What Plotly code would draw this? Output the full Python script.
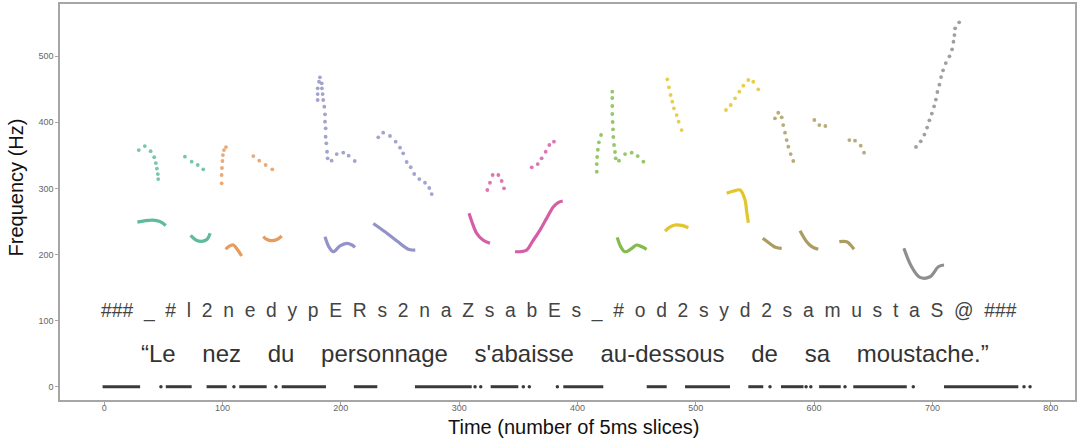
import plotly.graph_objects as go

# ---------------- data (time in 5 ms slices, frequency in Hz) ----------------
# solid F0 segments
s1_t = [28, 34, 41, 47, 52];                      s1_hz = [249, 251, 252, 250, 244]
s2_t = [73, 77.5, 82.5, 87, 89.5];                s2_hz = [229, 222, 220, 223, 232]
s3_t = [102.6, 105.4, 109, 112.2, 116.1];         s3_hz = [208, 212.4, 214.4, 208.3, 197.7]
s4_t = [134.4, 137.5, 141.5, 146, 150];           s4_hz = [227, 222.7, 221, 222.7, 228]
s5_t = [186.6, 190, 193.6, 199.2, 204.9, 209.4, 211.9]
s5_hz = [227, 211.3, 204.2, 212.9, 216.9, 214.4, 210.9]
s6_t = [227.4, 237.6, 247.7, 257, 262.9];         s6_hz = [247, 234, 220, 208, 206.5]
s7_t = [308.3, 310.8, 314.8, 320.1, 326];         s7_hz = [262.3, 249.2, 232, 221.9, 216.9]
s8_t = [347.2, 357, 362, 368.3, 374, 379.5, 384, 387.5]
s8_hz = [204.2, 206.8, 220, 237, 255, 272, 279, 281]
s9_t = [433.6, 436.5, 440.1, 445, 450, 454, 458.4]
s9_hz = [226, 212, 204.2, 208, 214.4, 212, 207.9]
s10_t = [474, 478, 482.5, 488, 493.7];            s10_hz = [235.5, 241.5, 244.6, 244, 240.5]
s11_t = [526.1, 532, 537.4, 541.6, 543, 544.4];   s11_hz = [292.6, 296, 297.6, 282.5, 265, 248.1]
s12_t = [556.6, 560, 564.2, 568, 572.6];          s12_hz = [224.5, 220, 214.4, 210.5, 209.4]
s13_t = [588.1, 593.7, 598, 603.5];               s13_hz = [236, 219.4, 212, 207.9]
s14_t = [621.3, 627.6, 631, 633.7];               s14_hz = [219.4, 219.4, 214, 207.9]
s15_t = [675.9, 682.4, 689.5, 698, 705, 709.8];   s15_hz = [209.4, 181.5, 165.4, 166.4, 181.5, 184.1]

# dotted upper tracks
d1_t = [29.2, 34.3, 39.2, 42.2, 43.6, 44.5, 45.3, 45.6]
d1_hz = [358, 364, 356.4, 347.3, 338.3, 330, 321.7, 314.2]
d2_t = [68.2, 73.9, 79, 83.7];                    d2_hz = [348, 340.4, 335.4, 328.9]
d3_t = [99.2, 99.2, 99.5, 99.9, 100.3, 101.2, 102.9]
d3_hz = [307.7, 320.3, 330.9, 341.5, 350.5, 358, 362.6]
d4_t = [126, 131, 136.4, 142];                    d4_hz = [349, 341.9, 335.4, 328.9]
d5_t = [182.3, 181.5, 183.8, 180.4, 184, 180.4, 184.6, 180.4, 185.1, 186, 186.6, 186.6,
        187.1, 187.1, 187.7, 188.3, 188.8, 192.2, 196.5, 202, 206.6, 211.7]
d5_hz = [468.1, 461.4, 459, 451.4, 451.4, 442.8, 442.8, 433.8, 433.8, 423.6, 412.1, 400.9,
         390.9, 378.2, 368.2, 355.5, 345.5, 341.9, 352, 354, 349.5, 341.5]
d6_t = [231.6, 235.8, 241.5, 246.3, 250, 252.7, 255.6, 259, 262, 266.3, 271.1, 274.7, 276.8]
d6_hz = [377.3, 384.3, 379.3, 370.7, 361.6, 353.1, 340, 332, 321.8, 314.2, 308.6, 300.6, 291.5]
d7_t = [323.8, 326, 328.3, 333.1, 335.9, 337.9];  d7_hz = [297.6, 308.6, 320.3, 320.3, 311.2, 300.2]
d8_t = [361.3, 366.4, 369.7, 373.1, 376.2, 380.1]; d8_hz = [331.9, 336.9, 345.5, 355.5, 365.7, 370.7]
d9a_t = [416.3, 416.3, 416.6, 417.2, 418.1, 419.9]
d9a_hz = [325.3, 336.9, 347.5, 358.5, 369.7, 380.8]
d9b_t = [429.4, 429.4, 429.4, 429.4, 429.7, 430, 430.3, 430.9, 431.7, 432.3, 435.1, 440.2,
         445.8, 450.9, 455.7]
d9b_hz = [446.3, 436.8, 424.7, 412.6, 400.5, 389.4, 377.8, 365.7, 355.1, 345.5, 341.9, 352,
          354, 349, 340.4]
d10_t = [475.9, 477.3, 478.7, 480.1, 481.5, 483.8, 485.5, 488]
d10_hz = [465, 452.9, 441.3, 431.2, 421.2, 411, 400.9, 388.3]
d11_t = [525.5, 529.5, 533.2, 536.8, 540.2, 544.4, 548.6, 552.8]
d11_hz = [418.6, 426.2, 436.3, 446.3, 455.4, 464, 461.4, 449.9]
d12_t = [566.9, 569.7, 572.6, 573.9, 575.4, 576.8, 578.2, 580.2, 582.4]
d12_hz = [406, 414.5, 407.6, 395.9, 384.3, 373.2, 363.1, 352, 341.5]
d13_t = [600.2, 604.4, 609.5];                    d13_hz = [403.5, 395.9, 394.4]
d14_t = [629.8, 634.6, 639.4, 642.2];             d14_hz = [373.2, 372.2, 364.6, 354]
d15_t = [686.1, 690.1, 693.2, 695.5, 697.4, 699.5, 701.4, 702.9, 704.2, 705.9, 707.3, 709,
         711.3, 714.4, 716.6, 717.8, 718.6, 719.2, 722.6]
d15_hz = [362.7, 371.3, 381.4, 392, 403, 413.2, 424.2, 434.4, 445.9, 457, 468.5, 478.7,
          489.7, 499.8, 510.4, 521.9, 532, 542.2, 551.3]

# unvoiced frames (F0 = 0): runs and isolated frames
zero_runs = [(-1.4, 30.3), (52, 73.9), (86.5, 103.5), (114.1, 137.3), (150, 187.4),
             (211, 230.8), (262.6, 310.6), (326.6, 350), (388, 421.8), (458.5, 475.4),
             (490.9, 528.9), (544.4, 557), (572, 591), (604.2, 622.5), (633.1, 678.3),
             (709.8, 772.6)]
zero_dots = [47.9, 109.6, 145.1, 313.4, 318.2, 354.2, 359.3, 383, 562.7, 593.2, 597.2,
             626.1, 683.8, 777.4, 782.5]

phonemes = ["###", "_", "#", "l", "2", "n", "e", "d", "y", "p", "E", "R", "s", "2", "n", "a",
            "Z", "s", "a", "b", "E", "s", "_", "#", "o", "d", "2", "s", "y", "d", "2", "s",
            "a", "m", "u", "s", "t", "a", "S", "@", "###"]
sentence_words = ["\u201cLe", "nez", "du", "personnage", "s'abaisse", "au-dessous", "de",
                  "sa", "moustache.\u201d"]

x_ticks = [0, 100, 200, 300, 400, 500, 600, 700, 800]
y_ticks = [0, 100, 200, 300, 400, 500]

# ---------------- styling ----------------
TEAL, ORANGE, PURPLE, PINK = "#5fbb9c", "#e69b5f", "#9393c9", "#d65ea6"
GREEN, YELLOW, OLIVE, GREY = "#82bc4c", "#e3c52c", "#ab9c62", "#8e8e8e"

solids = [(s1_t, s1_hz, TEAL), (s2_t, s2_hz, TEAL), (s3_t, s3_hz, ORANGE), (s4_t, s4_hz, ORANGE),
          (s5_t, s5_hz, PURPLE), (s6_t, s6_hz, PURPLE), (s7_t, s7_hz, PINK), (s8_t, s8_hz, PINK),
          (s9_t, s9_hz, GREEN), (s10_t, s10_hz, YELLOW), (s11_t, s11_hz, YELLOW),
          (s12_t, s12_hz, OLIVE), (s13_t, s13_hz, OLIVE), (s14_t, s14_hz, OLIVE),
          (s15_t, s15_hz, GREY)]
dots = [(d1_t, d1_hz, TEAL), (d2_t, d2_hz, TEAL), (d3_t, d3_hz, ORANGE), (d4_t, d4_hz, ORANGE),
        (d5_t, d5_hz, PURPLE), (d6_t, d6_hz, PURPLE), (d7_t, d7_hz, PINK), (d8_t, d8_hz, PINK),
        (d9a_t, d9a_hz, GREEN), (d9b_t, d9b_hz, GREEN), (d10_t, d10_hz, YELLOW),
        (d11_t, d11_hz, YELLOW), (d12_t, d12_hz, OLIVE), (d13_t, d13_hz, OLIVE),
        (d14_t, d14_hz, OLIVE), (d15_t, d15_hz, GREY)]

fig = go.Figure()

for t, hz, c in dots:
    fig.add_trace(go.Scatter(x=t, y=hz, mode="markers", hoverinfo="skip",
                             marker=dict(size=3.8, color=c, opacity=0.85)))
for t, hz, c in solids:
    fig.add_trace(go.Scatter(x=t, y=hz, mode="lines", hoverinfo="skip",
                             line=dict(color=c, width=3.2, shape="spline", smoothing=1.0)))

zx, zy = [], []
for a, b in zero_runs:
    zx += [a, b, None]
    zy += [0, 0, None]
fig.add_trace(go.Scatter(x=zx, y=zy, mode="lines", hoverinfo="skip",
                         line=dict(color="#3a3a3a", width=3)))
fig.add_trace(go.Scatter(x=zero_dots, y=[0] * len(zero_dots), mode="markers",
                         hoverinfo="skip", marker=dict(size=3.5, color="#3a3a3a")))

FONT = "Liberation Sans, Arial, sans-serif"
fig.add_annotation(x=384, y=114, xref="x", yref="y", showarrow=False,
                   text="\u00a0\u00a0".join(phonemes),
                   font=dict(family=FONT, size=19.3, color="#444444"))
fig.add_annotation(x=389.5, y=50, xref="x", yref="y", showarrow=False,
                   text=("\u00a0" * 4).join(sentence_words),
                   font=dict(family=FONT, size=24, color="#333333"))

# axis titles placed explicitly
fig.add_annotation(x=0.506, y=-0.068, xref="paper", yref="paper", showarrow=False,
                   xanchor="center", yanchor="middle",
                   text="Time (number of 5ms slices)",
                   font=dict(family=FONT, size=20, color="#111111"))
fig.add_annotation(x=-0.0433, y=0.537, xref="paper", yref="paper", showarrow=False,
                   xanchor="center", yanchor="middle", textangle=-90,
                   text="Frequency (Hz)",
                   font=dict(family=FONT, size=20, color="#111111"))

axis_common = dict(showgrid=False, zeroline=False, showline=True, mirror=True,
                   linecolor="#a6a6a6", linewidth=1.5, ticks="outside", ticklen=3,
                   tickcolor="#a6a6a6", automargin=False,
                   tickfont=dict(family=FONT, size=9, color="#666666"))
fig.update_xaxes(range=[-37.4, 820.5], tickvals=x_ticks, ticklabelstandoff=-5,
                 **axis_common)
fig.update_yaxes(range=[-20.1, 579], tickvals=y_ticks, **axis_common)

fig.update_layout(width=1077, height=444, showlegend=False,
                  margin=dict(l=60, r=2, t=4, b=44),
                  paper_bgcolor="white", plot_bgcolor="white")

fig.write_html("out.html", config={"displayModeBar": False},
               post_script="document.body.style.margin='0';"
                           "document.body.style.overflow='hidden';")
